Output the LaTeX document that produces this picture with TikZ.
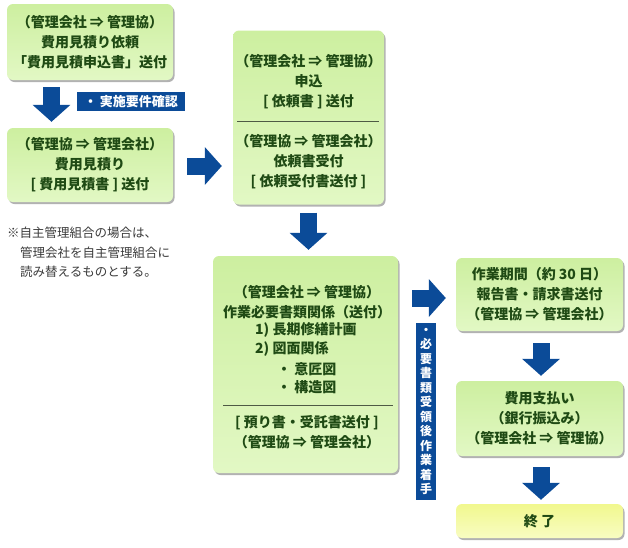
\documentclass[tikz,border=0pt]{standalone}
\usepackage{fontspec}
\setmainfont{Noto Sans CJK JP}
\usetikzlibrary{arrows.meta,shadows}
\definecolor{boxtop}{HTML}{CDEFA0}
\definecolor{boxbot}{HTML}{E2F8C4}
\definecolor{endtop}{HTML}{F1F88E}
\definecolor{endbot}{HTML}{F8FCC2}
\definecolor{flowblue}{HTML}{0B4B98}
\definecolor{txtgreen}{HTML}{1F4A14}
\definecolor{notegray}{HTML}{3A3A3A}
\definecolor{rulegray}{HTML}{4E5A44}

\begin{document}
\begin{tikzpicture}[x=1pt,y=-1pt]
\tikzstyle{every node}+=[inner sep=0pt]
\tikzstyle{stepbox}=[rounded corners=6pt,top color=boxtop,bottom color=boxbot,
  drop shadow={shadow xshift=1.5pt,shadow yshift=-2pt,fill=black!30,opacity=1},
  font=\bfseries\fontsize{14}{20}\selectfont,text=txtgreen,align=center]
\tikzstyle{endbox}=[stepbox,top color=endtop,bottom color=endbot]
\tikzstyle{boxtext}=[font=\bfseries\fontsize{14}{20}\selectfont,text=txtgreen]
\tikzstyle{bigarrow}=[flowblue,line width=17pt,-{Triangle[width=37pt,length=17pt]}]
\tikzstyle{bluetag}=[fill=flowblue,text=white,font=\bfseries\fontsize{13}{14.5}\selectfont,align=center]
\useasboundingbox (0,0) rectangle (628,547);

\node[stepbox,minimum width=166pt,minimum height=76pt] (req) at (90,42)
  {（管理会社 ⇒ 管理協）\\費用見積り依頼\\「費用見積申込書」送付};
\node[stepbox,minimum width=166pt,minimum height=74pt] (est) at (90,165)
  {（管理協 ⇒ 管理会社）\\費用見積り\\{[} 費用見積書 {]} 送付};
\node[stepbox,minimum width=151pt,minimum height=174pt] (app) at (308.5,117.5) {};
\node[boxtext,align=center] (appa) at (308.5,82)
  {（管理会社 ⇒ 管理協）\\申込\\{[} 依頼書 {]} 送付};
\draw[rulegray] (237,121) -- (379,121);
\node[boxtext,align=center] (appb) at (308.5,162)
  {（管理協 ⇒ 管理会社）\\依頼書受付\\{[} 依頼受付書送付 {]}};
\node[stepbox,minimum width=185pt,minimum height=217pt] (docs) at (305.5,364.5) {};
\node[boxtext,align=center] (docsa) at (307,302)
  {（管理会社 ⇒ 管理協）\\作業必要書類関係（送付）};
\node[boxtext,anchor=west] (docsb) at (255,330) {1) 長期修繕計画};
\node[boxtext,anchor=west] (docsc) at (255,349) {2) 図面関係};
\node[boxtext,anchor=west] (docsd) at (277,369) {・ 意匠図};
\node[boxtext,anchor=west] (docse) at (277,387) {・ 構造図};
\draw[rulegray] (223,405) -- (393,405);
\node[boxtext,align=center] (docsf) at (307,432.5)
  {{[} 預り書・受託書送付 {]}\\（管理協 ⇒ 管理会社）};
\node[stepbox,minimum width=167pt,minimum height=73pt] (rep) at (539.5,294.5)
  {作業期間（約 30 日）\\報告書・請求書送付\\（管理協 ⇒ 管理会社）};
\node[stepbox,minimum width=167pt,minimum height=75pt] (pay) at (539.5,418.5)
  {費用支払い\\（銀行振込み）\\（管理会社 ⇒ 管理協）};
\node[endbox,minimum width=167pt,minimum height=34pt] (fin) at (539.5,521) {終 了};

\draw[bigarrow] ([xshift=-38.5pt,yshift=-7pt]req.south) -- ([xshift=-38.5pt,yshift=6pt]est.north);
\draw[bigarrow] ([xshift=14pt,yshift=-1pt]est.east) -- ([xshift=-11pt,yshift=-1pt]est.east -| app.west);
\draw[bigarrow] ([yshift=-8pt]app.south) -- ([yshift=6pt]app.south |- docs.north);
\draw[bigarrow] ([xshift=14pt,yshift=-3.5pt]docs.east |- rep.west) -- ([xshift=-10pt,yshift=-3.5pt]rep.west);
\draw[bigarrow] ([xshift=1.5pt,yshift=-12pt]rep.south) -- ([xshift=1.5pt,yshift=5pt]pay.north);
\draw[bigarrow] ([xshift=1.5pt,yshift=-11pt]pay.south) -- ([xshift=1.5pt,yshift=4pt]fin.north);

\node[bluetag,minimum width=108pt,minimum height=19pt] (chk) at (131,101.5) {・ 実施要件確認};
\node[bluetag,minimum width=20pt,minimum height=177pt,font=\bfseries\fontsize{12}{14.5}\selectfont] (start) at (426,411.5)
  {・\\必\\要\\書\\類\\受\\領\\後\\作\\業\\着\\手};

\node[anchor=north west,align=left,text=notegray,font=\fontsize{12.5}{19.5}\selectfont] (note) at (7,227)
  {※自主管理組合の場合は、\\\hspace*{13pt}管理会社を自主管理組合に\\\hspace*{13pt}読み替えるものとする。};
\end{tikzpicture}
\end{document}
